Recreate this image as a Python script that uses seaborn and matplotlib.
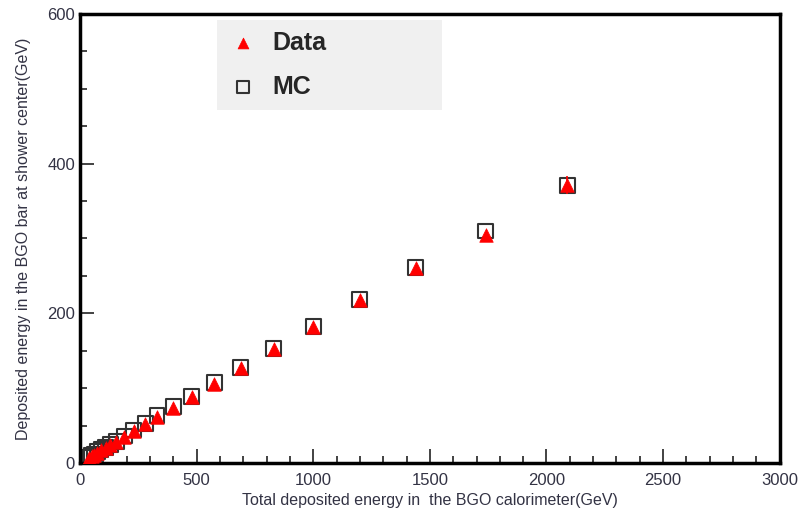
import numpy as np
import pandas as pd
import seaborn as sns
from matplotlib import pyplot as plt
from matplotlib.ticker import MultipleLocator

# total deposited energy (GeV) and energy in the central BGO bar (GeV)
e_total = [40, 50, 60, 75, 90, 110, 130, 155, 190, 230, 280, 330, 400, 480,
           575, 690, 830, 1000, 1200, 1440, 1740, 2090]
e_data = [7, 9, 11, 14, 17, 20, 24, 28, 35, 43, 52, 62, 74, 88,
          106, 127, 152, 182, 218, 260, 305, 372]
e_data_err = [0.5, 0.5, 0.5, 0.5, 0.5, 0.5, 0.5, 0.5, 0.5, 0.5, 0.5, 0.5, 0.5, 0.5,
              1, 1, 1, 1, 2, 2, 4, 12]
e_mc = [8, 10, 12, 15, 18, 21, 25, 29, 36, 44, 53, 63, 75, 89,
        107, 128, 153, 182, 219, 261, 310, 371]

df = pd.DataFrame({"total": e_total, "data": e_data, "err": e_data_err, "mc": e_mc})

sns.set_style("white")
plt.rcParams['font.family'] = ['Liberation Sans', 'DejaVu Sans']

fig = plt.figure(figsize=(7.99, 5.15), dpi=100)
ax = fig.add_axes([0.1001, 0.101, 0.8758, 0.872])

sns.scatterplot(data=df, x="total", y="mc", marker="s", s=115,
                facecolors="none", edgecolor="#333333", linewidth=1.5,
                label="MC", ax=ax, zorder=2)
ax.errorbar(df["total"], df["data"], yerr=df["err"], fmt="none",
            ecolor="red", elinewidth=1.2, zorder=3)
sns.scatterplot(data=df, x="total", y="data", marker="^", s=95,
                color="red", edgecolor="red", linewidth=0.5,
                label="Data", ax=ax, zorder=4)

ax.set_xlim(0, 3000)
ax.set_ylim(0, 600)
ax.xaxis.set_major_locator(MultipleLocator(500))
ax.xaxis.set_minor_locator(MultipleLocator(100))
ax.yaxis.set_major_locator(MultipleLocator(200))
ax.yaxis.set_minor_locator(MultipleLocator(50))
ax.tick_params(which="both", direction="in", top=False, right=False,
               bottom=True, left=True, colors="#222222", labelsize=12,
               labelcolor="#333344")
ax.tick_params(which="major", length=10, width=1.2)
ax.tick_params(which="minor", length=5, width=1.2)
ax.tick_params(axis="x", pad=7)

for sp in ax.spines.values():
    sp.set_linewidth(2.5)
    sp.set_color("black")

ax.set_xlabel("Total deposited energy in  the BGO calorimeter(GeV)", fontsize=11.5,
              color="#333344", labelpad=4)
ax.set_ylabel("Deposited energy in the BGO bar at shower center(GeV)", fontsize=11.5,
              color="#333344", labelpad=12)

handles, labels = ax.get_legend_handles_labels()
order = [labels.index("Data"), labels.index("MC")]
leg = ax.legend([handles[i] for i in order], [labels[i] for i in order],
                loc="upper left", bbox_to_anchor=(0.196, 0.793, 0.321, 0.194),
                mode="expand", frameon=True, facecolor="#f0f0f0",
                edgecolor="none", fancybox=False, framealpha=1,
                prop={"size": 18, "weight": "bold"}, labelspacing=0.8,
                borderpad=0.45, handlelength=1.2, handletextpad=0.55,
                markerscale=0.8, borderaxespad=0)

fig.savefig("out.png", dpi=100)
